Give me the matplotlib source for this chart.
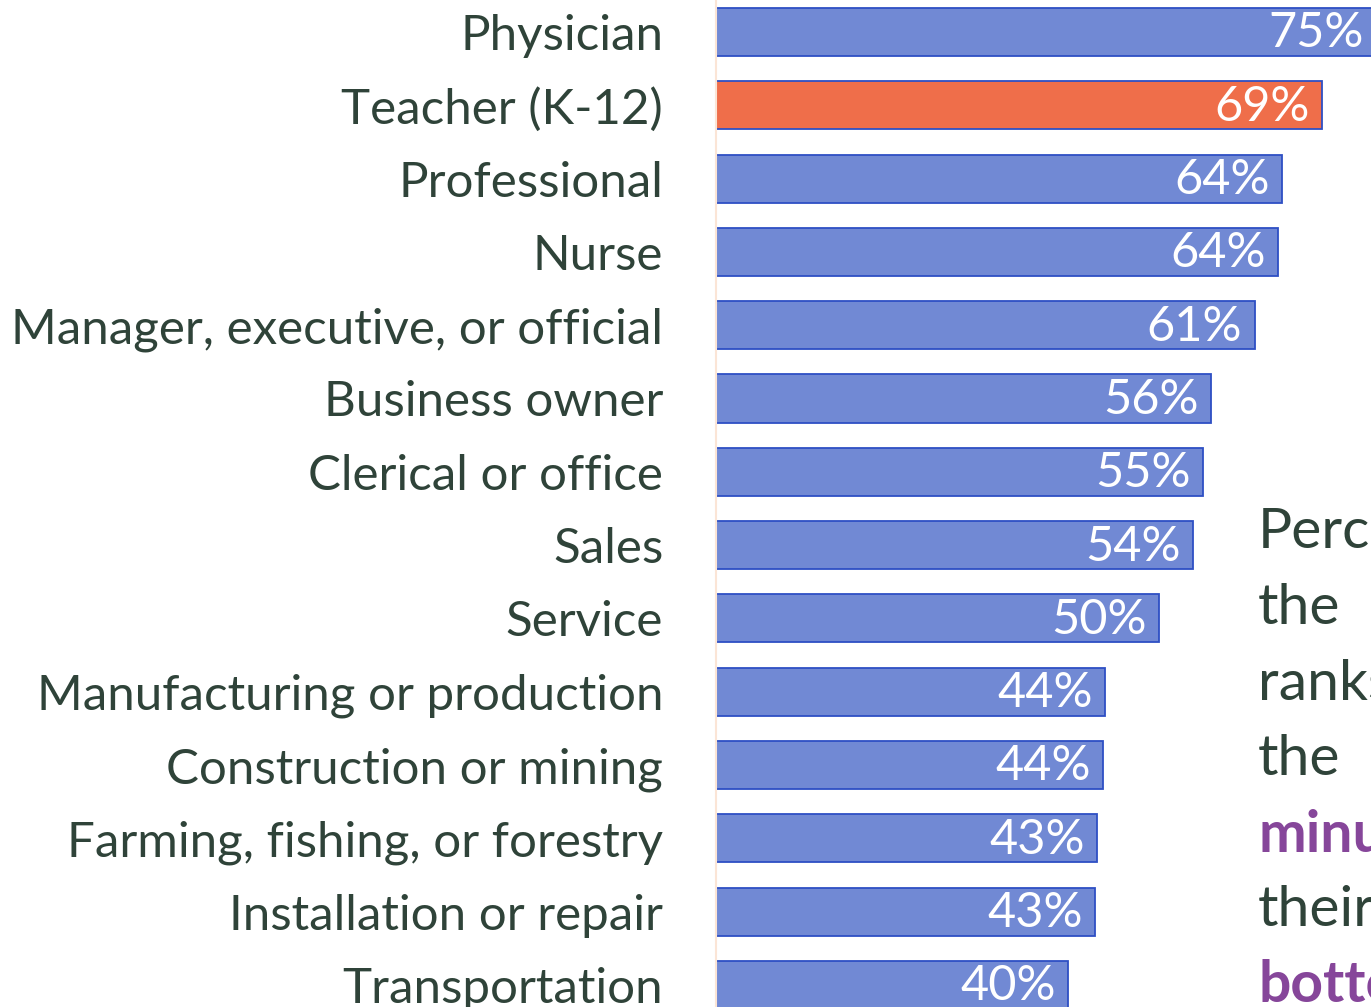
import matplotlib
matplotlib.use("Agg")
import matplotlib.pyplot as plt

plt.rcParams['font.family'] = ['Lato', 'DejaVu Sans']

# data
categories = ['Physician', 'Teacher (K-12)', 'Professional', 'Nurse',
              'Manager, executive, or official', 'Business owner',
              'Clerical or office', 'Sales', 'Service',
              'Manufacturing or production', 'Construction or mining',
              'Farming, fishing, or forestry', 'Installation or repair',
              'Transportation']
values = [75.0, 68.9, 64.3, 63.9, 61.2, 56.3, 55.3, 54.2, 50.3, 44.2, 44.0, 43.3, 43.1, 40.0]
value_labels = ['75%', '69%', '64%', '64%', '61%', '56%', '55%', '54%', '50%',
                '44%', '44%', '43%', '43%', '40%']
highlight = 'Teacher (K-12)'

# note on the right, cut off by the edge of the picture
side_words = ['Percent', 'the', 'ranks', 'the', 'minus', 'their', 'bottom']
side_bold = [False, False, False, False, True, False, True]

BLUE = '#7189d4'
ORANGE = '#ef6e4a'
EDGE = '#2e4fc4'
DARK = '#2f4339'
PURPLE = '#86469a'

W, H = 1371, 1007
fig = plt.figure(figsize=(W / 100, H / 100), dpi=100)
ax = fig.add_axes([716 / W, 0, (W - 716) / W, 1])

colors = [ORANGE if c == highlight else BLUE for c in categories]
ypos = list(range(len(categories)))
ax.barh(ypos, values, height=0.655, color=colors, edgecolor=EDGE, linewidth=1.3)

for y, v, lab in zip(ypos, values, value_labels):
    ax.text(v - 1.4, y + 0.02, lab, ha='right', va='center', color='white', fontsize=35)

ax.set_xlim(0, 655 / 8.8)
ax.set_ylim(975 / 73.3, -32 / 73.3)
ax.set_yticks(ypos)
ax.set_yticklabels(categories, fontsize=35.5, color=DARK)
ax.tick_params(axis='y', length=0, pad=38)
ax.set_xticks([])
for s in ['top', 'right', 'bottom']:
    ax.spines[s].set_visible(False)
ax.spines['left'].set_color('#fbe5d6')
ax.spines['left'].set_linewidth(1.5)

for i, (w, b) in enumerate(zip(side_words, side_bold)):
    fig.text(1258 / W, 1 - (533 + 75.5 * i) / H, w, ha='left', va='center',
             fontsize=41, color=PURPLE if b else DARK,
             fontweight='bold' if b else 'normal')

fig.savefig('out.png', dpi=100)
